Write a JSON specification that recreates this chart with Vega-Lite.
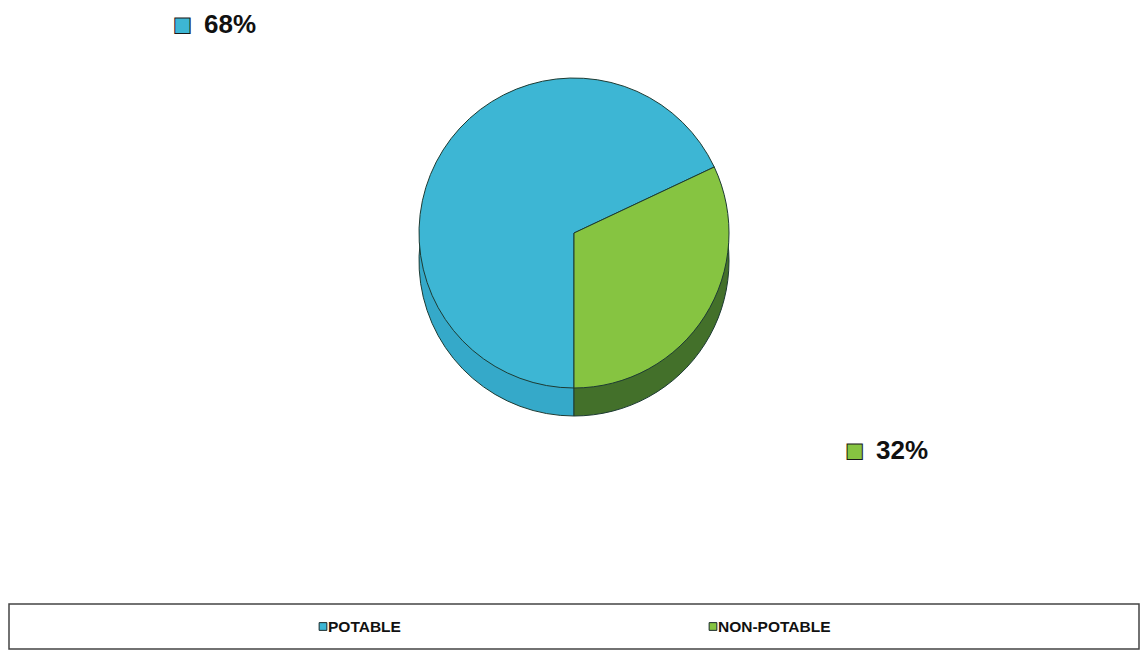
{
  "$schema": "https://vega.github.io/schema/vega-lite/v6.json",
  "padding": {"left": 8, "top": 0, "right": 5, "bottom": 0},
  "background": "white",
  "config": {"view": {"stroke": null}, "font": "Liberation Sans"},
  "data": {"values": [
    {"category": "POTABLE", "share": 68, "label": "68%"},
    {"category": "NON-POTABLE", "share": 32, "label": "32%"}
  ]},
  "spacing": 137,
  "vconcat": [
    {
      "width": 1130,
      "height": 466,
      "encoding": {
        "theta": {"field": "share", "type": "quantitative", "stack": true, "scale": {"range": [1.1310, 7.4142]}},
        "order": {"field": "category", "sort": "ascending"}
      },
      "layer": [
        {
          "mark": {"type": "arc", "outerRadius": 155, "yOffset": 28, "stroke": "#1d3b33", "strokeWidth": 1},
          "encoding": {
            "fill": {"field": "category", "type": "nominal", "scale": {"domain": ["POTABLE", "NON-POTABLE"], "range": ["#35a9c9", "#43702a"]}, "legend": null}
          }
        },
        {
          "mark": {"type": "arc", "outerRadius": 155, "stroke": "#1d3b33", "strokeWidth": 1},
          "encoding": {
            "color": {"field": "category", "type": "nominal", "scale": {"domain": ["POTABLE", "NON-POTABLE"], "range": ["#3db6d4", "#86c441"]}, "legend": null}
          }
        },
        {
          "mark": {"type": "text", "radius": 398, "dx": -46, "dy": 5, "align": "right", "baseline": "middle", "fontSize": 20, "stroke": "#1a1a1a", "strokeWidth": 1, "font": "DejaVu Sans"},
          "encoding": {
            "text": {"value": "■"},
            "color": {"field": "category", "type": "nominal", "legend": null}
          }
        },
        {
          "mark": {"type": "text", "radius": 398, "dx": -34, "dy": 5, "align": "left", "baseline": "middle", "fontSize": 26, "fontWeight": "bold", "color": "#111"},
          "encoding": {
            "text": {"field": "label"}
          }
        }
      ]
    },
    {
      "width": 1130,
      "height": 45,
      "view": {"stroke": "#444", "strokeWidth": 1.5},
      "encoding": {
        "x": {"field": "category", "type": "nominal", "scale": {"type": "point", "domain": ["POTABLE", "NON-POTABLE"], "range": [314, 704], "padding": 0}, "axis": null}
      },
      "layer": [
        {
          "mark": {"type": "point", "shape": "square", "filled": true, "size": 60, "stroke": "#1a2a2a", "strokeWidth": 1, "opacity": 1},
          "encoding": {
            "color": {"field": "category", "type": "nominal", "legend": null}
          }
        },
        {
          "mark": {"type": "text", "align": "left", "dx": 5, "baseline": "middle", "fontWeight": "bold", "fontSize": 15.5, "color": "#111"},
          "encoding": {"text": {"field": "category"}}
        }
      ]
    }
  ]
}
